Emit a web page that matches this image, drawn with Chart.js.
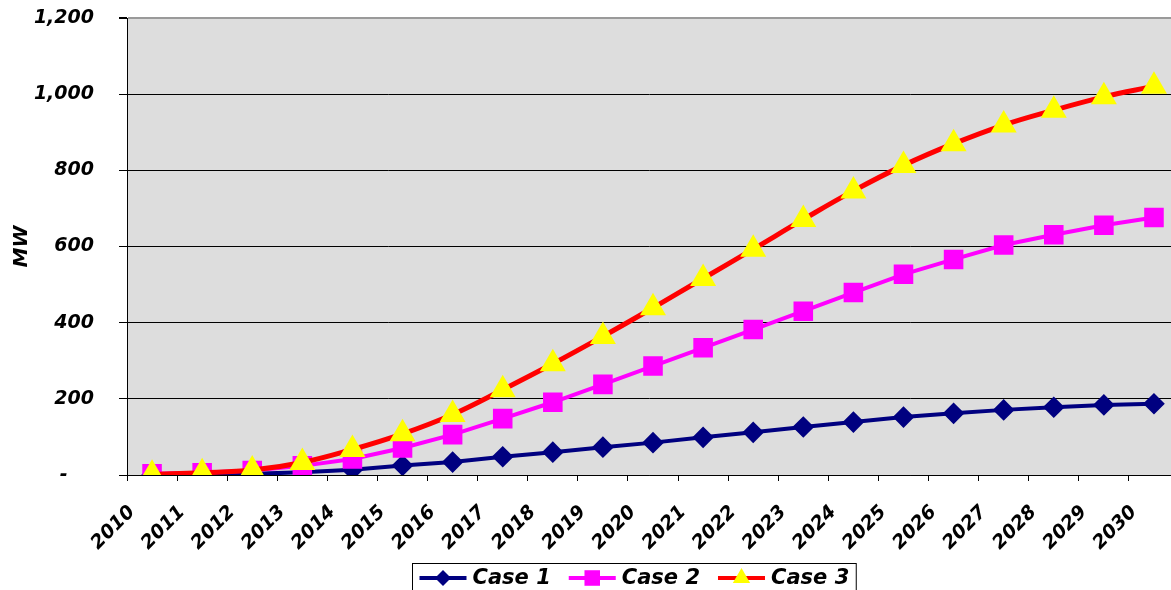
<!DOCTYPE html>
<html lang="en">
<head>
    <meta charset="UTF-8">
    <title>MW by Case, 2010-2030</title>
    <script src="https://cdn.jsdelivr.net/npm/chart.js"></script>
    <style>
        html, body {
            margin: 0;
            padding: 0;
            background: #fff;
            overflow: hidden;
        }
        .wrap {
            width: 1171px;
            height: 590px;
            position: relative;
        }
        canvas {
            display: block;
        }
    </style>
</head>
<body>
    <div class="wrap">
        <canvas id="mwChart"></canvas>
    </div>

    <script>
        // values (MW)
        const years = ['2010', '2011', '2012', '2013', '2014', '2015', '2016', '2017', '2018', '2019', '2020',
                       '2021', '2022', '2023', '2024', '2025', '2026', '2027', '2028', '2029', '2030'];
        const case1 = [0, 1, 3, 7, 14, 25, 34, 48, 60, 73, 85, 99, 112, 126, 139, 152, 162, 171, 178, 184, 187];
        const case2 = [3, 6, 12, 24, 42, 71, 106, 148, 191, 238, 286, 334, 382, 430, 479, 527, 566, 604, 631, 656, 676];
        const case3 = [2, 6, 13, 33, 67, 108, 159, 224, 292, 364, 439, 516, 593, 671, 746, 813, 870, 919, 958, 993, 1021];
        const yTicks = [0, 200, 400, 600, 800, 1000, 1200];

        const FONT = '"DejaVu Sans", Verdana, sans-serif';

        // points sit in the middle of each year slot, ticks on the slot borders
        const toPoints = arr => arr.map((v, i) => ({ x: i + 0.5, y: v }));

        const plotBackground = {
            id: 'plotBackground',
            beforeDraw(chart) {
                const { ctx, chartArea: a } = chart;
                ctx.save();
                ctx.fillStyle = '#dddddd';
                ctx.fillRect(a.left, a.top, a.right - a.left, a.bottom - a.top);
                ctx.restore();
            }
        };

        function drawMarker(ctx, style, x, y, r) {
            ctx.beginPath();
            if (style === 'rectRot') {
                ctx.moveTo(x, y - r);
                ctx.lineTo(x + r, y);
                ctx.lineTo(x, y + r);
                ctx.lineTo(x - r, y);
            } else if (style === 'rect') {
                const s = r * Math.SQRT1_2;
                ctx.rect(x - s, y - s, 2 * s, 2 * s);
            } else {
                ctx.moveTo(x, y - r);
                ctx.lineTo(x + r * 0.866, y + r / 2);
                ctx.lineTo(x - r * 0.866, y + r / 2);
            }
            ctx.closePath();
            ctx.fill();
        }

        // Excel style legend: line + marker sample, boxed, under the axis
        const caseLegend = {
            id: 'caseLegend',
            afterDraw(chart) {
                const ctx = chart.ctx;
                const sets = chart.data.datasets;
                ctx.save();
                ctx.font = 'italic bold 21px ' + FONT;
                const lineLen = 47, gap = 6, itemGap = 18, pad = 7;
                const widths = sets.map(ds => ctx.measureText(ds.label).width);
                let total = pad * 2 + itemGap * (sets.length - 1);
                widths.forEach(w => total += lineLen + gap + w);
                const left = Math.round(634 - total / 2) + 0.5;
                const top = 563.5;
                const cy = 578;
                ctx.fillStyle = '#fff';
                ctx.fillRect(left, top, total, 40);
                ctx.strokeStyle = '#000';
                ctx.lineWidth = 1;
                ctx.strokeRect(left, top, total, 40);

                let x = left + pad;
                sets.forEach((ds, i) => {
                    ctx.strokeStyle = ds.borderColor;
                    ctx.lineWidth = 4;
                    ctx.beginPath();
                    ctx.moveTo(x, cy);
                    ctx.lineTo(x + lineLen, cy);
                    ctx.stroke();
                    ctx.fillStyle = ds.pointBackgroundColor;
                    drawMarker(ctx, ds.pointStyle, x + lineLen / 2, cy, ds.pointRadius);
                    ctx.fillStyle = '#000';
                    ctx.textBaseline = 'middle';
                    ctx.fillText(ds.label, x + lineLen + gap, cy + 1);
                    x += lineLen + gap + widths[i] + itemGap;
                });
                ctx.restore();
            }
        };

        const ctx = document.getElementById('mwChart').getContext('2d');

        const mwChart = new Chart(ctx, {
            type: 'line',
            data: {
                datasets: [
                    {
                        label: 'Case 1',
                        data: toPoints(case1),
                        borderColor: '#000080',
                        backgroundColor: '#000080',
                        pointBackgroundColor: '#000080',
                        pointBorderColor: '#000080',
                        pointStyle: 'rectRot',
                        pointRadius: 8,
                        borderWidth: 4,
                        order: 3
                    },
                    {
                        label: 'Case 2',
                        data: toPoints(case2),
                        borderColor: '#ff00ff',
                        backgroundColor: '#ff00ff',
                        pointBackgroundColor: '#ff00ff',
                        pointBorderColor: '#ff00ff',
                        pointStyle: 'rect',
                        pointRadius: 11,
                        borderWidth: 4,
                        order: 2
                    },
                    {
                        label: 'Case 3',
                        data: toPoints(case3),
                        borderColor: '#ff0000',
                        backgroundColor: '#ffff00',
                        pointBackgroundColor: '#ffff00',
                        pointBorderColor: '#ffff00',
                        pointStyle: 'triangle',
                        pointRadius: 10,
                        borderWidth: 5,
                        tension: 0.4,
                        order: 1
                    }
                ]
            },
            options: {
                responsive: true,
                maintainAspectRatio: false,
                animation: false,
                layout: {
                    autoPadding: false,
                    padding: { top: 18, right: 0, bottom: 0, left: 0 }
                },
                plugins: {
                    legend: { display: false },
                    tooltip: { enabled: false }
                },
                elements: {
                    point: { borderWidth: 1 }
                },
                scales: {
                    x: {
                        type: 'linear',
                        min: 0,
                        max: 20.84,
                        afterBuildTicks: scale => {
                            scale.ticks = years.map((_, i) => ({ value: i }));
                        },
                        afterFit: scale => {
                            scale.height = 115;
                            scale.paddingLeft = 0;
                            scale.paddingRight = 0;
                        },
                        ticks: {
                            autoSkip: false,
                            minRotation: 45,
                            maxRotation: 45,
                            padding: 20,
                            labelOffset: 5,
                            color: '#000',
                            font: { family: FONT, size: 19, style: 'italic', weight: 'bold' },
                            callback: v => years[v]
                        },
                        grid: {
                            drawOnChartArea: false,
                            drawTicks: true,
                            tickLength: 6,
                            color: '#000'
                        },
                        border: { color: '#000', width: 1 }
                    },
                    y: {
                        min: 0,
                        max: 1200,
                        afterBuildTicks: scale => {
                            scale.ticks = yTicks.map(v => ({ value: v }));
                        },
                        afterFit: scale => {
                            scale.width = 127;
                            scale.paddingTop = 0;
                            scale.paddingBottom = 0;
                        },
                        ticks: {
                            padding: 25,
                            color: '#000',
                            font: { family: FONT, size: 19, style: 'italic', weight: 'bold' },
                            callback: v => v === 0 ? '-    ' : v.toLocaleString('en-US')
                        },
                        grid: {
                            color: c => c.tick && c.tick.value === 1200 ? '#9a9a9a' : '#000',
                            tickColor: '#000',
                            tickLength: 8,
                            lineWidth: c => c.tick && c.tick.value === 1200 ? 2 : 1
                        },
                        border: { color: '#000', width: 1 },
                        title: {
                            display: true,
                            text: 'MW',
                            color: '#000',
                            padding: { top: 10, bottom: 0 },
                            font: { family: FONT, size: 20, style: 'italic', weight: 'bold' }
                        }
                    }
                }
            },
            plugins: [plotBackground, caseLegend]
        });
    </script>
</body>
</html>
